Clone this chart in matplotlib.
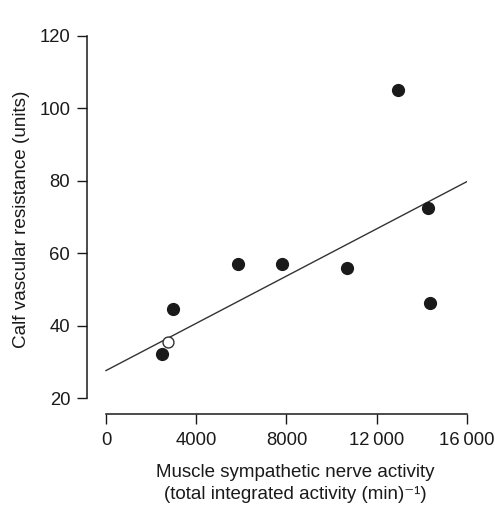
import matplotlib
matplotlib.use("Agg")
import matplotlib.pyplot as plt

# MSNA vs calf vascular resistance
msna_filled = [12950, 14290, 14360, 10670, 7790, 5860, 2980, 2500]
cvr_filled = [105.1, 72.6, 46.2, 56.0, 57.1, 56.9, 44.6, 32.2]
msna_open = [2760]
cvr_open = [35.4]

# regression line ends
fit_x = [0, 16000]
fit_y = [27.6, 79.8]

x_ticks = [0, 4000, 8000, 12000, 16000]
x_ticklabels = ["0", "4000", "8000", "12\u2009000", "16\u2009000"]
y_ticks = [20, 40, 60, 80, 100, 120]

plt.rcParams['font.family'] = ['Liberation Sans', 'DejaVu Sans']
ink = "#1a1a1a"

fig = plt.figure(figsize=(4.95, 5.24), dpi=100)
ax = fig.add_axes([0.1754, 0.2099, 0.768, 0.7214])

ax.plot(fit_x, fit_y, color="#333333", lw=1.0, zorder=1)
ax.scatter(msna_filled, cvr_filled, s=72, color=ink, zorder=3)
ax.scatter(msna_open, cvr_open, s=62, facecolors="white", edgecolors="#333333",
           linewidths=1.0, zorder=2)

ax.set_xlim(-850, 16000)
ax.set_ylim(15.6, 120)

for side in ["top", "right"]:
    ax.spines[side].set_visible(False)
ax.spines["bottom"].set_bounds(0, 16000)
ax.spines["left"].set_bounds(20, 120)
for side in ["bottom", "left"]:
    ax.spines[side].set_linewidth(1.1)
    ax.spines[side].set_color(ink)

ax.set_xticks(x_ticks)
ax.set_xticklabels(x_ticklabels)
ax.set_yticks(y_ticks)
ax.tick_params(direction="out", length=7, width=1.0, colors=ink,
               labelsize=13.3, pad=5)
ax.tick_params(axis="x", pad=6)

ax.set_ylabel("Calf vascular resistance (units)", fontsize=13.6, color=ink,
              va="center")
ax.yaxis.set_label_coords(-0.173, 0.516)
ax.set_xlabel("Muscle sympathetic nerve activity\n(total integrated activity (min)\u207b\u00b9)",
              fontsize=13.5, color=ink, linespacing=1.38, va="center")
ax.xaxis.set_label_coords(0.548, -0.185)

fig.savefig("out.png", dpi=100)
